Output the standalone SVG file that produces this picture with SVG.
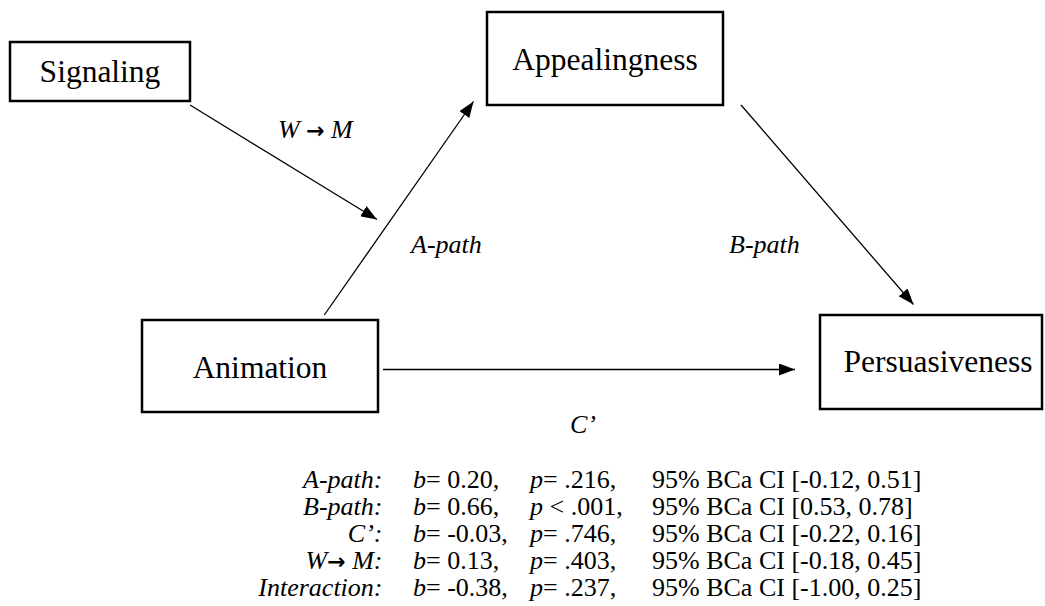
<svg xmlns="http://www.w3.org/2000/svg" width="1045" height="606" viewBox="0 0 1045 606">
<defs>
<marker id="ah" viewBox="0 0 16 12" refX="16" refY="6" markerWidth="16" markerHeight="12" markerUnits="userSpaceOnUse" orient="auto">
<path d="M0,0 L16,6 L0,12 z" fill="#000"/>
</marker>
<style>
text{font-family:'Liberation Serif','Times New Roman',Times,'DejaVu Serif','Noto Serif',FreeSerif,serif}
.box{fill:#fff;stroke:#000;stroke-width:2.5}
.node{font-size:31.5px;fill:#000;text-anchor:middle}
.lbl{font-size:26px;font-style:italic;fill:#000}
.tx{font-size:26px;fill:#000}
.it{font-style:italic}
.arr{font-family:'DejaVu Sans',sans-serif;font-weight:bold;font-style:normal;font-size:22px}
.edge{stroke:#000;stroke-width:1.3;fill:none;marker-end:url(#ah)}
</style>
</defs>
<rect width="1045" height="606" fill="#fff"/>
<g id="signaling">
<rect class="box" x="10" y="42" width="180" height="59"/>
<text class="node" x="100" y="82">Signaling</text>
</g>
<g id="appealingness">
<rect class="box" x="487" y="12" width="236" height="93"/>
<text class="node" x="605" y="70">Appealingness</text>
</g>
<g id="animation">
<rect class="box" x="142" y="320" width="236" height="92"/>
<text class="node" x="260" y="378">Animation</text>
</g>
<g id="persuasiveness">
<rect class="box" x="820" y="315" width="222" height="94"/>
<text class="node" x="938" y="372">Persuasiveness</text>
</g>
<g id="connectors">
<line class="edge" x1="190" y1="105" x2="377" y2="219.5"/>
<line class="edge" x1="324.3" y1="315" x2="473.5" y2="101.5"/>
<line class="edge" x1="741" y1="105" x2="913.5" y2="304.5"/>
<line class="edge" x1="383" y1="369.5" x2="795" y2="369.5"/>
</g>
<g id="labels">
<text class="lbl" x="278" y="138">W <tspan class="arr">→</tspan> M</text>
<text class="lbl" x="411" y="253">A-path</text>
<text class="lbl" x="729" y="253">B-path</text>
<text class="lbl" x="570" y="433">C’</text>
</g>
<g id="stats">
<text class="tx it" x="382.5" y="488" text-anchor="end">A-path:</text>
<text class="tx" x="413" y="488"><tspan class="it">b</tspan>= 0.20,</text>
<text class="tx" x="530" y="488"><tspan class="it">p</tspan>= .216,</text>
<text class="tx" x="652" y="488">95% BCa CI [-0.12, 0.51]</text>
<text class="tx it" x="382.5" y="515" text-anchor="end">B-path:</text>
<text class="tx" x="413" y="515"><tspan class="it">b</tspan>= 0.66,</text>
<text class="tx" x="530" y="515"><tspan class="it">p</tspan> &lt; .001,</text>
<text class="tx" x="652" y="515">95% BCa CI [0.53, 0.78]</text>
<text class="tx it" x="382.5" y="542" text-anchor="end">C’:</text>
<text class="tx" x="413" y="542"><tspan class="it">b</tspan>= -0.03,</text>
<text class="tx" x="530" y="542"><tspan class="it">p</tspan>= .746,</text>
<text class="tx" x="652" y="542">95% BCa CI [-0.22, 0.16]</text>
<text class="tx it" x="382.5" y="569" text-anchor="end">W<tspan class="arr">→</tspan> M:</text>
<text class="tx" x="413" y="569"><tspan class="it">b</tspan>= 0.13,</text>
<text class="tx" x="530" y="569"><tspan class="it">p</tspan>= .403,</text>
<text class="tx" x="652" y="569">95% BCa CI [-0.18, 0.45]</text>
<text class="tx it" x="382.5" y="596" text-anchor="end">Interaction:</text>
<text class="tx" x="413" y="596"><tspan class="it">b</tspan>= -0.38,</text>
<text class="tx" x="530" y="596"><tspan class="it">p</tspan>= .237,</text>
<text class="tx" x="652" y="596">95% BCa CI [-1.00, 0.25]</text>
</g>
</svg>
